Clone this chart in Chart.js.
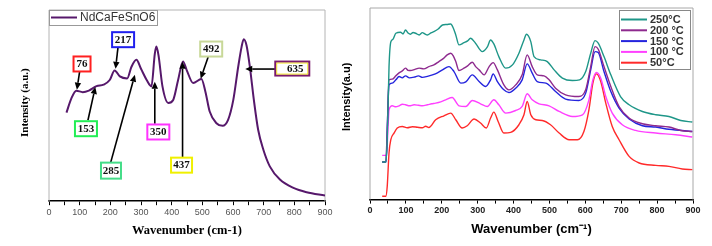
<!DOCTYPE html>
<html><head><meta charset="utf-8">
<script src="https://cdn.jsdelivr.net/npm/chart.js@4/dist/chart.umd.min.js"></script>
<style>
html,body{margin:0;padding:0;background:#fff;width:712px;height:246px;overflow:hidden}
#l{position:absolute;left:0;top:0;width:356px;height:246px}
#r{position:absolute;left:330px;top:0;width:382px;height:246px}
</style></head><body>
<div id="l"><canvas id="cl"></canvas></div>
<div id="r"><canvas id="cr"></canvas></div>
<script>
// ---------- Left panel data ----------
const leftName = 'NdCaFeSnO6';
const leftX = [57,73,89,110,130,155,178,198,214,231,255,269,285,300,318,334,345,350,357,370,389,405,421,437,449,470,497,510,524,546,566,584,601,617,628,635,644,655,668,682,699,720,753,797,840,900];
const leftY = [89,103.3,111,109.5,111,115.5,117,121.7,131.3,125.3,123.3,135,142,133,122,115.3,148,155.3,146.7,115.3,98.7,101.7,121.7,140.3,131.7,118.7,122.7,110,90,78.3,75.7,81.7,101.7,135,155,162.7,156.7,135,101.7,71.7,51.7,35,21.7,13.3,9,5.7];
const peakLabels = ['76','153','217','285','350','437','492','635'];

// ---------- Right panel data ----------
const seriesNames = ['250°C','200 °C','150 °C','100 °C','50°C'];
const wn250 = [34,44,48,53,58,64,72,85,92,99,106,113,120,127,137,146,153,160,170,178,190,202,214,225,232,239,248,262,272,280,294,313,327,336,345,359,378,397,415,429,436,448,457,476,494,513,536,564,584,601,615,627,636,652,671,698,722,759,796,833,866,898];
const i250 = [37.7,37.7,60,133,158,160.7,166.7,167.7,166,170,167,165.7,167.5,166.7,165,167.3,166,165,167,168.3,171,175,175.5,176,172,165,155,157.3,159,161.7,156.7,148.3,153,160,156,143.3,131.7,135,146.7,160,165.7,158.3,143.3,140,138.3,130,121.7,119.3,120,128.3,146.7,159.3,156.7,143.3,125,103.3,95,88.3,85,83.3,79.3,77.7];
const wn200 = [34,44,48,53,62,72,81,90,99,106,113,125,137,150,164,178,192,205,215,225,232,239,248,262,272,285,295,304,318,332,343,355,373,387,406,424,438,452,466,485,499,517,545,582,601,615,627,636,652,671,694,722,759,796,833,866,898];
const i200 = [37.7,37.7,70,120,120.7,124,127,129,131.7,129.5,129.3,130.5,131.7,131,133.3,135,138.3,141.5,145,146.7,144,138.3,129.3,131.7,134,137.7,133,130,125,133.3,137.3,130,115,110,115,125,145,133.3,125,124,120,111.7,105,103.3,110,133.3,153.3,150.7,133.3,113.3,93.3,81.7,76,74,72.7,69.3,68.3];
const wn150 = [34,45,48,53,62,72,81,90,99,110,123,135,146,160,174,188,202,220,234,253,267,285,304,322,336,343,355,373,387,406,424,438,452,466,490,517,545,582,601,615,627,636,652,671,694,722,759,796,833,898];
const i150 = [37.7,37.7,70,115,116.7,120,123.3,122,124,122,122.7,124,122.5,123.5,125,127,130,133.3,128.3,116.7,118,125,118.3,113.3,120,126,118.3,110,107.3,111.7,120,136,126.7,118.3,116.7,108.3,100.7,99.3,106.7,130,148.3,147.3,128.3,108.3,91.7,80.7,74,72.7,70.5,68.3];
const wn100 = [34,46,50,53,62,72,81,90,99,110,123,135,146,160,172,183,197,211,229,248,267,285,308,327,345,359,378,406,424,438,452,471,499,527,564,592,610,621,631,643,657,675,703,740,796,852,898];
const i100 = [44.3,44.3,70,90,94,93,94,95.5,95,94,95,94.5,94,95,96,96.7,98,100,102.3,94,93.3,99.3,96,93.3,100,95,86.7,89.3,93.3,106,100,96,94,88.3,83.3,85,100,120,127.3,121.7,103.3,86.7,75,69.3,66.7,65,62.7];
const wn50 = [34,44,48,53,58,67,76,90,104,118,132,146,155,164,183,206,225,239,257,271,290,308,324,336,345,357,373,392,415,429,438,448,462,480,503,527,555,578,596,610,621,631,643,657,675,694,722,750,796,833,870,898];
const i50 = [3.3,3.3,13.3,46.7,60,66.7,71.7,73.3,72,73,72.5,72,73.5,72.3,80,84,86.7,80,71.7,74,80.7,76.7,71.7,81.7,87.7,78.3,66.7,67.3,75,85,98.3,85,80,79.3,75,66.7,60,60,68.3,90,116.7,126,118.3,96.7,73.3,60,43.3,36.7,34.3,33.3,30.7,30];

// ---------- Annotation placement (data units) & styles ----------
const annot = [
  {bx:107.7,by:137.8,w:17,h:15,tx:100,ty:130.3,px:91,py:112,c:'#ff2020'},
  {bx:120.5,by:72.8,w:22,h:15,tx:127,ty:81.3,px:151,py:114.7,c:'#22ee55'},
  {bx:241.6,by:162.2,w:22,h:15,tx:225,ty:154.7,px:217,py:133,c:'#2020ee'},
  {bx:202.1,by:30.7,w:20,h:16,tx:201,ty:38.7,px:280,py:127,c:'#44dd88'},
  {bx:356.5,by:69.5,w:22,h:15,tx:345,ty:77.7,px:345,py:120,c:'#ff33ff'},
  {bx:432.2,by:36.2,w:21,h:15,tx:435.5,ty:43.7,px:435.5,py:140,c:'#f0f000'},
  {bx:528.9,by:152.8,w:22,h:15,tx:519,ty:144.7,px:494.5,py:123,c:'#c8d898'},
  {bx:793.3,by:133.2,w:34,h:14,tx:737,ty:132.7,px:640,py:132.7,c:'#7a1a6e'}
];

const pts = (xs, ys) => xs.map((x,i)=>({x, y: ys[i]}));

const framePlugin = {
  id:'frame',
  beforeDatasetsDraw(chart, args, o){
    const {ctx, chartArea:a} = chart;
    ctx.save(); ctx.strokeStyle = o.color; ctx.lineWidth = 1;
    ctx.beginPath(); ctx.moveTo(a.left, a.bottom); ctx.lineTo(a.left, a.top);
    ctx.lineTo(a.right, a.top); ctx.lineTo(a.right, a.bottom); ctx.stroke();
    // y title
    ctx.translate(o.ytX, (a.top + a.bottom)/2 + o.ytShift);
    ctx.rotate(-Math.PI/2);
    ctx.font = o.ytFont; ctx.fillStyle = '#000'; ctx.textAlign = 'center'; ctx.textBaseline = 'middle';
    ctx.fillText(o.ytText, 0, 0);
    ctx.restore();
  },
  afterDatasetsDraw(chart, args, o){
    const {ctx, chartArea:a} = chart;
    const ds = chart.data.datasets;
    ctx.save();
    const bx = o.legRight ? a.right - o.legRight - o.legW : a.left + o.legLeft;
    const by = a.top + o.legTop;
    ctx.fillStyle = '#fff'; ctx.fillRect(bx, by, o.legW, o.legH);
    ctx.strokeStyle = o.legBorder; ctx.lineWidth = 1; ctx.strokeRect(bx+0.5, by+0.5, o.legW, o.legH);
    ctx.font = o.legFont; ctx.textBaseline = 'middle'; ctx.textAlign = 'left';
    ds.forEach((d,i)=>{
      const y = by + o.legFirst + i*o.legStep;
      ctx.strokeStyle = d.borderColor; ctx.lineWidth = o.legLW;
      ctx.beginPath(); ctx.moveTo(bx+2, y); ctx.lineTo(bx+2+o.legLine, y); ctx.stroke();
      ctx.fillStyle = o.legText; ctx.fillText(d.label, bx + 5 + o.legLine, y+0.5);
    });
    ctx.restore();
  }
};

const annotPlugin = {
  id:'annot',
  afterDatasetsDraw(chart){
    if (!chart.options.plugins.annot || !chart.options.plugins.annot.on) return;
    const {ctx, scales:{x, y}} = chart;
    ctx.save();
    annot.forEach((an, i)=>{
      const tx = x.getPixelForValue(an.tx), ty = y.getPixelForValue(an.ty);
      const px = x.getPixelForValue(an.px), py = y.getPixelForValue(an.py);
      ctx.strokeStyle = '#000'; ctx.fillStyle = '#000'; ctx.lineWidth = 1.6;
      const ang = Math.atan2(py - ty, px - tx);
      const L = 7, W = 3.2;
      const bxp = px - L*Math.cos(ang), byp = py - L*Math.sin(ang);
      ctx.beginPath(); ctx.moveTo(tx, ty); ctx.lineTo(bxp, byp); ctx.stroke();
      ctx.beginPath(); ctx.moveTo(px, py);
      ctx.lineTo(bxp + W*Math.sin(ang), byp - W*Math.cos(ang));
      ctx.lineTo(bxp - W*Math.sin(ang), byp + W*Math.cos(ang));
      ctx.closePath(); ctx.fill();
      const cx = x.getPixelForValue(an.bx), cy = y.getPixelForValue(an.by);
      ctx.fillStyle = '#fff'; ctx.fillRect(cx-an.w/2, cy-an.h/2, an.w, an.h);
      ctx.strokeStyle = an.c; ctx.lineWidth = 2; ctx.strokeRect(cx-an.w/2, cy-an.h/2, an.w, an.h);
      if (i === 7) { ctx.strokeStyle = '#f2e600'; ctx.lineWidth = 0.8; ctx.strokeRect(cx-an.w/2+1.5, cy-an.h/2+1.5, an.w-3, an.h-3); }
      ctx.fillStyle = '#111'; ctx.font = 'bold 11px "Liberation Serif"';
      ctx.textAlign = 'center'; ctx.textBaseline = 'middle';
      ctx.fillText(peakLabels[i], cx + (i===7?3:0), cy + 0.5);
    });
    ctx.restore();
  }
};

function xAxis(title, tickFont, tickColor, titleFont, padTop){
  return {
    type:'linear', min:0, max:900,
    ticks:{stepSize:50, autoSkip:false, maxRotation:0, padding:2, color:tickColor, font:tickFont,
      callback:v => (v % 100 === 0 ? String(v) : '')},
    grid:{drawOnChartArea:false, drawTicks:true, tickLength:4, color:'#000', lineWidth:1},
    border:{color:'#000', width:1.5},
    title:{display:true, text:title, color:'#000', font:titleFont, padding:{top:padTop, bottom:0}}
  };
}

new Chart(document.getElementById('cl'), {
  type:'line',
  data:{datasets:[{label:leftName, data:pts(leftX,leftY), borderColor:'#56186b', borderWidth:2,
    pointRadius:0, cubicInterpolationMode:'monotone', fill:false}]},
  options:{
    responsive:true, maintainAspectRatio:false, animation:false,
    layout:{padding:{left:49, top:10, right:31, bottom:8}},
    scales:{
      x:xAxis('Wavenumber (cm-1)', {family:'Liberation Sans', size:9}, '#555', {family:'Liberation Serif', size:12.5, weight:'bold'}, 3),
      y:{display:false, min:0, max:192}
    },
    plugins:{
      legend:{display:false}, tooltip:{enabled:false},
      annot:{on:true},
      frame:{color:'#b4b4b4', ytX:25, ytShift:-3, ytText:'Intensity (a.u.)', ytFont:'bold 11px "Liberation Serif"',
        legLeft:0, legRight:0, legTop:0, legW:108, legH:15, legFirst:7.5, legStep:11, legLine:26, legLW:2,
        legFont:'12px "Liberation Sans"', legText:'#333', legBorder:'#999'}
    }
  },
  plugins:[framePlugin, annotPlugin]
});

const rColors = ['#1e9688','#8e2a8e','#2424dd','#ff40ff','#ff2a2a'];
const rData = [pts(wn250,i250), pts(wn200,i200), pts(wn150,i150), pts(wn100,i100), pts(wn50,i50)];
new Chart(document.getElementById('cr'), {
  type:'line',
  data:{datasets:rData.map((d,i)=>({label:seriesNames[i], data:d, borderColor:rColors[i], borderWidth:1.4,
    pointRadius:0, cubicInterpolationMode:'monotone', fill:false, order:i===0?0:i}))},
  options:{
    responsive:true, maintainAspectRatio:false, animation:false,
    layout:{padding:{left:40, top:8, right:19, bottom:9}},
    scales:{
      x:xAxis('Wavenumber (cm⁻¹)', {family:'Liberation Sans', size:9, weight:'bold'}, '#222', {family:'Liberation Sans', size:13, weight:'bold'}, 3),
      y:{display:false, min:0, max:192}
    },
    plugins:{
      legend:{display:false}, tooltip:{enabled:false},
      annot:{on:false},
      frame:{color:'#a8a8a8', ytX:17, ytShift:-7, ytText:'Intensity(a.u)', ytFont:'bold 11px "Liberation Sans"',
        legLeft:0, legRight:3, legTop:2, legW:71, legH:59, legFirst:9.5, legStep:10.8, legLine:26, legLW:2,
        legFont:'bold 11px "Liberation Sans"', legText:'#333', legBorder:'#888'}
    }
  },
  plugins:[framePlugin]
});
</script>
</body></html>
